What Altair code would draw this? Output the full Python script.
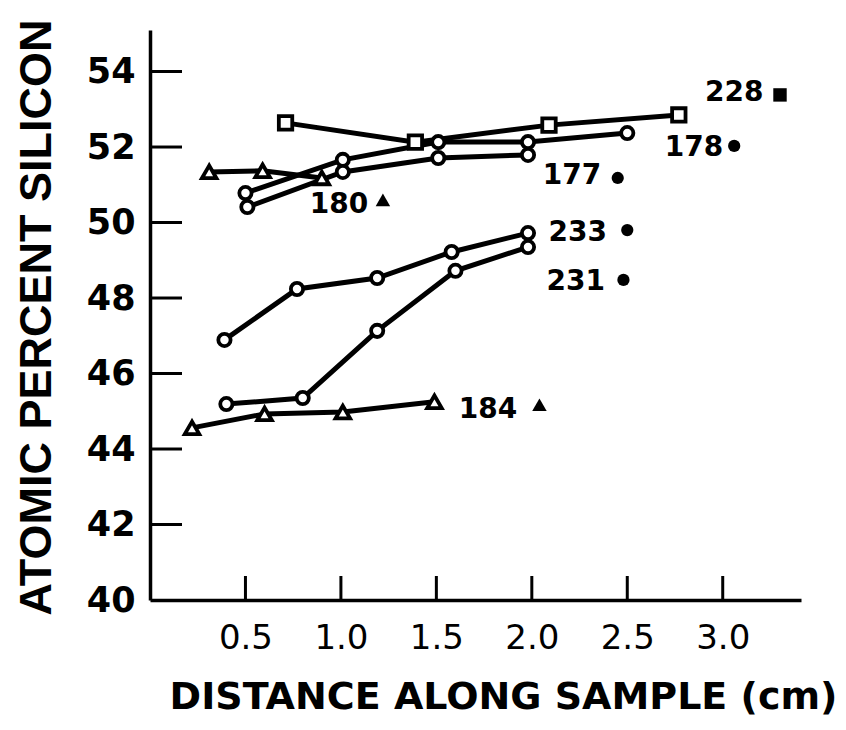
import altair as alt
import pandas as pd

# Measured composition profiles (distance in cm, atomic percent Si)
s228_x = [0.71, 1.39, 2.09, 2.77]
s228_y = [52.64, 52.13, 52.58, 52.85]
s178_x = [0.50, 1.01, 1.51, 1.98, 2.50]
s178_y = [50.78, 51.66, 52.13, 52.13, 52.37]
s177_x = [0.51, 1.01, 1.51, 1.98]
s177_y = [50.41, 51.34, 51.71, 51.79]
s180_x = [0.31, 0.59, 0.90]
s180_y = [51.34, 51.37, 51.18]
s233_x = [0.39, 0.77, 1.19, 1.58, 1.98]
s233_y = [46.89, 48.24, 48.53, 49.22, 49.72]
s231_x = [0.40, 0.80, 1.19, 1.60, 1.98]
s231_y = [45.19, 45.35, 47.13, 48.72, 49.35]
s184_x = [0.22, 0.60, 1.01, 1.49]
s184_y = [44.56, 44.93, 44.98, 45.25]

samples = ["228", "178", "177", "180", "233", "231", "184"]
markers = ["square", "circle", "circle", "triangle", "circle", "circle", "triangle"]
xs = [s228_x, s178_x, s177_x, s180_x, s233_x, s231_x, s184_x]
ys = [s228_y, s178_y, s177_y, s180_y, s233_y, s231_y, s184_y]

# Sample key: text centre and key-symbol centre (data units)
key_text_x = [3.06, 2.85, 2.21, 0.99, 2.24, 2.23, 1.77]
key_text_y = [53.43, 51.97, 51.23, 50.46, 49.72, 48.42, 45.03]
key_mark_x = [3.30, 3.06, 2.45, 1.22, 2.50, 2.48, 2.04]
key_mark_y = [53.38, 52.03, 51.18, 50.60, 49.80, 48.48, 45.17]

x_ticks = [0.5, 1.0, 1.5, 2.0, 2.5, 3.0]
y_ticks = [42, 44, 46, 48, 50, 52, 54]

rows = []
for s, m, xv, yv in zip(samples, markers, xs, ys):
    for a, b in zip(xv, yv):
        rows.append({"sample": s, "marker": m, "x": a, "y": b})
df = pd.DataFrame(rows)

key_df = pd.DataFrame({
    "sample": samples, "marker": markers,
    "tx": key_text_x, "ty": key_text_y,
    "mx": key_mark_x, "my": key_mark_y,
})

W, H = 651, 570
xs_scale = alt.Scale(domain=[0, 3.41], nice=False, zero=False)
ys_scale = alt.Scale(domain=[40, 55.1], nice=False, zero=False)
shape_scale = alt.Scale(domain=["circle", "square", "triangle"],
                        range=["circle", "square", "triangle-up"])

x_axis = alt.Axis(
    values=x_ticks, format=".1f", title="DISTANCE ALONG SAMPLE (cm)",
    tickSize=0, labelPadding=38, labelBaseline="middle",
    labelFont="DejaVu Sans", labelFontSize=34, labelFontWeight="normal",
    titleFont="DejaVu Sans", titleFontSize=38, titleFontWeight="bold",
    titleX=353, titleY=97, titleAlign="center", titleBaseline="middle",
)
y_axis = alt.Axis(
    values=y_ticks + [40], format="d", title="ATOMIC PERCENT SILICON",
    tickSize=0, labelPadding=15,
    labelFont="DejaVu Sans", labelFontSize=35, labelFontWeight="bold",
    titleFont="Liberation Sans", titleFontSize=45, titleFontWeight="bold",
    titleX=-114, titleY=H / 2 + 2, titleAngle=270, titleAlign="center",
    titleBaseline="middle",
)

base = alt.Chart(df)

lines = base.mark_line(color="black", strokeWidth=5).encode(
    x=alt.X("x:Q", scale=xs_scale, axis=x_axis),
    y=alt.Y("y:Q", scale=ys_scale, axis=y_axis),
    detail="sample:N",
)

points = base.mark_point(
    filled=True, fill="white", stroke="black", strokeWidth=3.8, opacity=1
).encode(
    x=alt.X("x:Q", scale=xs_scale),
    y=alt.Y("y:Q", scale=ys_scale),
    shape=alt.Shape("marker:N", scale=shape_scale, legend=None),
    size=alt.Size("marker:N", scale=alt.Scale(
        domain=["circle", "square", "triangle"], range=[150, 210, 200]), legend=None),
)

key_text = alt.Chart(key_df).mark_text(
    align="center", baseline="middle", font="DejaVu Sans",
    fontSize=28, fontWeight="bold", color="black",
).encode(
    x=alt.X("tx:Q", scale=xs_scale),
    y=alt.Y("ty:Q", scale=ys_scale),
    text="sample:N",
)

key_marks = alt.Chart(key_df).mark_point(
    filled=True, color="black", opacity=1
).encode(
    x=alt.X("mx:Q", scale=xs_scale),
    y=alt.Y("my:Q", scale=ys_scale),
    shape=alt.Shape("marker:N", scale=shape_scale, legend=None),
    size=alt.Size("marker:N", scale=alt.Scale(
        domain=["circle", "square", "triangle"], range=[180, 130, 150]), legend=None),
)

# Inward tick marks on both axes
y_tick_rules = alt.Chart(pd.DataFrame({"t": y_ticks})).mark_rule(
    color="black", strokeWidth=3
).encode(
    y=alt.Y("t:Q", scale=ys_scale),
    x=alt.value(0), x2=alt.value(32),
)
x_tick_rules = alt.Chart(pd.DataFrame({"t": x_ticks})).mark_rule(
    color="black", strokeWidth=3
).encode(
    x=alt.X("t:Q", scale=xs_scale),
    y=alt.value(H), y2=alt.value(H - 24),
)

chart = alt.layer(
    y_tick_rules, x_tick_rules, lines, points, key_text, key_marks
).properties(
    width=W, height=H,
    autosize=alt.AutoSizeParams(type="none"),
    padding={"left": 150, "top": 30, "right": 45, "bottom": 130},
).configure_view(stroke=None).configure_axis(
    domainColor="black", domainWidth=3.5, grid=False,
    labelColor="black", titleColor="black",
)

chart.save("out.html", embed_options={"renderer": "svg", "actions": False})
